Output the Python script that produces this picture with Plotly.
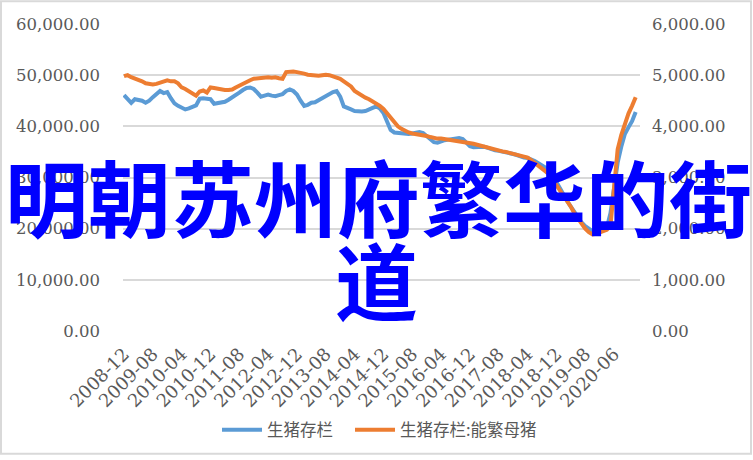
import plotly.graph_objects as go

# ---- data ----
months = []
for y in range(2008, 2020):
    for m in range(1, 13):
        if (y == 2008 and m < 12):
            continue
        months.append(f"{y}-{m:02d}")
extra_months = ["2020-03", "2020-04", "2020-05", "2020-06", "2020-07",
                "2020-08", "2020-09", "2020-12", "2021-03", "2021-06"]
categories = months + extra_months

hog_stock = [
    46100, 45300, 44600, 45300, 45200, 45000, 44600, 45000, 45700, 46400,
    46900, 46500, 46700, 45500, 44500, 44000, 43600, 43300, 43500, 43800,
    44100, 45400, 45500, 45400, 45300, 44400, 44500, 44600, 44800, 45200,
    45600, 46100, 46600, 47100, 47500, 47600, 47300, 46600, 45800, 46000,
    46200, 46000, 45900, 46100, 46300, 46900, 47200, 46900, 46200, 45000,
    44000, 44200, 44600, 44700, 45100, 45700, 46100, 46400, 46700, 46900,
    45800, 43900, 43500, 43300, 43000, 42900, 42900, 43000, 43200, 43600,
    43900, 43500, 42600, 40800, 39300, 38800, 38700, 38600, 38500, 38500,
    38600, 38800, 38900, 38700, 38100, 37400, 36900, 36800, 37100, 37300,
    37400, 37500, 37600, 37700, 37500, 36800, 36100, 35900, 35900, 36000,
    36000, 35800, 35500, 35300, 35200, 35100, 35000, 34800, 34600, 34400,
    34100, 33900, 33800, 33600, 33200, 32800, 32300, 31900, 31600, 30300,
    29000, 27800, 26600, 25400, 24300, 23200, 22100, 21200, 20500, 19900,
    19500, 19300, 19400, 19700, 20200, 23000, 28500, 32900, 36000, 38500,
    39800, 41000, 42800,
]

sow_stock = [
    4980, 5000, 4960, 4940, 4900, 4880, 4840, 4820, 4820, 4830,
    4860, 4880, 4900, 4880, 4880, 4840, 4760, 4730, 4690, 4650,
    4600, 4680, 4700, 4660, 4760, 4750, 4730, 4720, 4710, 4710,
    4720, 4760, 4800, 4840, 4870, 4900, 4930, 4940, 4950, 4950,
    4960, 4950, 4960, 4940, 4930, 5060, 5070, 5070, 5060, 5050,
    5030, 5010, 5000, 5000, 4990, 5000, 5010, 5000, 4980, 4950,
    4930, 4880, 4840, 4780, 4690, 4640, 4600, 4560, 4530, 4490,
    4450, 4400, 4340, 4250, 4160, 4080, 4000, 3950, 3910, 3880,
    3860, 3850, 3840, 3830, 3810, 3790, 3770, 3760, 3760, 3750,
    3740, 3740, 3730, 3720, 3700, 3690, 3670, 3660, 3640, 3620,
    3610, 3590, 3570, 3550, 3530, 3510, 3500, 3480, 3460, 3440,
    3420, 3410, 3390, 3340, 3290, 3230, 3180, 3120, 3060, 2960,
    2850, 2750, 2640, 2530, 2430, 2300, 2190, 2080, 2000, 1930,
    1890, 1900, 1920, 1950, 1980, 2050, 2850, 3550, 3830, 4050,
    4250, 4400, 4570,
]

left_ticks = [0, 10000, 20000, 30000, 40000, 50000, 60000]
right_ticks = [0, 1000, 2000, 3000, 4000, 5000, 6000]
x_ticks = categories[::8]

series_names = ["生猪存栏", "生猪存栏:能繁母猪"]
title_line1 = "明朝苏州府繁华的街"
title_line2 = "道"

# ---- layout geometry (pixels) ----
W, H = 753, 460
L, R, T, B = 123, 113, 24, 126
PW, PH = W - L - R, H - T - B


def px(x):
    return (x - L) / PW


def py(y):
    return (H - B - y) / PH


tick_font = dict(family="DejaVu Serif", size=16.5, color="#595959")
xtick_font = dict(family="DejaVu Serif", size=18, color="#595959")
legend_font = dict(family="Noto Sans CJK SC", size=16.5, color="#595959")

fig = go.Figure()
fig.add_trace(go.Scatter(
    x=categories, y=hog_stock, name=series_names[0], mode="lines",
    line=dict(color="#5B9BD5", width=4), yaxis="y", legend="legend"))
fig.add_trace(go.Scatter(
    x=categories, y=sow_stock, name=series_names[1], mode="lines",
    line=dict(color="#ED7D31", width=4), yaxis="y2", legend="legend2"))

fig.update_layout(
    width=W, height=H,
    margin=dict(l=L, r=R, t=T, b=B, pad=0),
    paper_bgcolor="white", plot_bgcolor="white",
    showlegend=True,
    legend=dict(orientation="h", x=px(217), xanchor="left", y=py(434), yanchor="middle",
                font=legend_font, itemwidth=40, bgcolor="rgba(0,0,0,0)"),
    legend2=dict(orientation="h", x=px(350), xanchor="left", y=py(434), yanchor="middle",
                 font=legend_font, itemwidth=40, bgcolor="rgba(0,0,0,0)"),
    xaxis=dict(type="category", range=[-0.28, 143.2], tickmode="array",
               tickvals=x_ticks, ticktext=x_ticks, tickangle=-45,
               showgrid=False, zeroline=False, showline=False, ticks="",
               tickfont=xtick_font, ticklabelstandoff=8),
    yaxis=dict(range=[0, 60000], tickmode="array", tickvals=left_ticks,
               tickformat=",.2f", showgrid=True, gridcolor="#D9D9D9", gridwidth=1.5,
               zeroline=False, showline=False, ticks="", tickfont=tick_font,
               ticklabelstandoff=22),
    yaxis2=dict(range=[0, 6000], tickmode="array", tickvals=right_ticks,
                tickformat=",.2f", overlaying="y", side="right", showgrid=False,
                zeroline=False, showline=False, ticks="", tickfont=tick_font,
                ticklabelstandoff=11),
    hovermode=False,
)

# chart border
fig.add_shape(type="rect", xref="paper", yref="paper",
              x0=px(1), x1=px(751), y0=py(458), y1=py(1),
              line=dict(color="#D9D9D9", width=2), fillcolor="rgba(0,0,0,0)", layer="below")

big_font = dict(family="Noto Sans CJK SC", size=83, color="#0000FF", weight="bold")
fig.add_annotation(text=title_line1, xref="paper", yref="paper",
                   x=px(378), y=py(197), xanchor="center", yanchor="middle",
                   showarrow=False, font=big_font)
fig.add_annotation(text=title_line2, xref="paper", yref="paper",
                   x=px(376), y=py(280), xanchor="center", yanchor="middle",
                   showarrow=False, font=big_font)

fig.write_html("out.html", config={"displayModeBar": False},
               post_script="document.body.style.margin='0px';document.body.style.padding='0px';")
